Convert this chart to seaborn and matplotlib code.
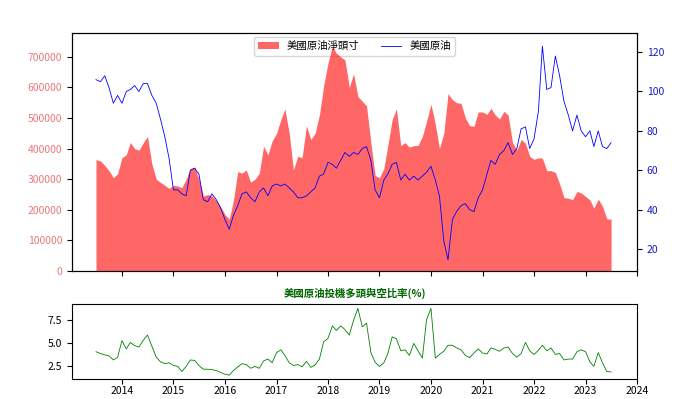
import numpy as np
import pandas as pd
import seaborn as sns
import matplotlib.pyplot as plt
import matplotlib.dates as mdates

# 月度取樣 (2013-07 ~ 2023-07)
months = pd.date_range("2013-07-01", periods=121, freq="MS")

# 美國原油淨頭寸 (千口)
net_k = [
    364, 360, 345, 328, 305, 318, 370, 380, 420, 400, 395, 419, 440, 350, 300, 290,
    280, 270, 280, 278, 272, 300, 335, 340, 300, 245, 250, 245, 230, 210, 185, 170,
    230, 325, 320, 330, 290, 300, 320, 408, 380, 425, 450, 495, 530, 450, 331, 375,
    370, 475, 430, 450, 510, 605, 680, 735, 712, 700, 690, 600, 645, 570, 555, 540,
    420, 312, 305, 335, 410, 495, 530, 410, 420, 405, 410, 410, 440, 490, 545, 480,
    400, 450, 580, 560, 550, 548, 500, 475, 473, 520, 520, 512, 532, 510, 497, 522,
    510, 420, 395, 430, 418, 375, 365, 370, 369, 328, 328, 322, 285, 240, 238, 233,
    260, 255, 244, 232, 205, 235, 212, 170, 170,
]

# 美國原油價格
price = [
    106, 105, 108, 102, 94, 98, 94, 100, 101, 103, 100, 104, 104, 98, 94, 86,
    77, 66, 50, 50, 48, 47, 60, 61, 58, 45, 44, 48, 45, 41, 35, 30,
    37, 42, 48, 49, 46, 44, 49, 51, 47, 52, 53, 52, 53, 51, 49, 46,
    46, 47, 49, 51, 57, 58, 64, 63, 61, 65, 69, 67, 69, 68, 71, 72,
    65, 50, 46, 55, 58, 63, 64, 55, 58, 55, 57, 55, 57, 59, 62, 55,
    47, 24, 14.5, 35, 39, 42, 43, 40, 39, 46, 50, 58, 65, 63, 68, 70,
    74, 68, 71, 81, 82, 71, 76, 90, 123, 101, 102, 118, 108, 95, 88, 80,
    88, 80, 77, 80, 72, 80, 72, 71, 74,
]

# 投機多頭與空頭比率 (%)
ratio = [
    4.1, 3.9, 3.75, 3.65, 3.2, 3.5, 5.3, 4.4, 5.1, 4.76, 4.6, 5.34, 5.9, 4.7, 3.5, 3.0,
    2.8, 2.9, 2.6, 2.5, 1.95, 2.5, 3.2, 3.15, 2.6, 2.2, 2.2, 2.15, 2.05, 1.85, 1.65, 1.55,
    2.05, 2.45, 2.8, 2.7, 2.3, 2.5, 2.3, 3.1, 3.3, 2.9, 4.0, 4.3, 3.7, 2.9, 2.6, 2.7,
    2.45, 3.05, 2.4, 2.65, 3.3, 5.17, 5.55, 6.9, 6.4, 6.9, 6.5, 5.9, 7.5, 8.8, 6.8, 7.2,
    4.0, 2.95, 2.5, 2.9, 3.9, 5.7, 5.5, 4.2, 4.3, 3.7, 5.0, 4.2, 3.4, 7.6, 8.8, 3.4,
    3.8, 4.14, 4.8, 4.8, 4.5, 4.3, 3.7, 3.45, 3.95, 4.4, 3.95, 3.85, 4.5, 4.35, 4.15, 4.5,
    4.6, 3.9, 3.5, 3.9, 5.1, 4.2, 3.8, 4.25, 4.8, 4.2, 4.5, 3.8, 3.9, 3.2, 3.3, 3.3,
    4.1, 4.3, 4.1, 3.0, 2.5, 4.0, 2.9, 1.95, 1.9,
]

df = pd.DataFrame({
    "date": months,
    "net": np.array(net_k) * 1000,
    "price": price,
    "ratio": ratio,
})

plt.rcParams["font.family"] = ["Noto Sans CJK TC", "DejaVu Sans"]
plt.rcParams["font.size"] = 7.5

fig = plt.figure(figsize=(6.88, 3.99), dpi=100)
ax1 = fig.add_axes([0.1047, 0.3208, 0.8212, 0.5965])
ax3 = fig.add_axes([0.1047, 0.050, 0.8212, 0.188])

# 上圖: 淨頭寸面積 + 油價
ax1.fill_between(df["date"], 0, df["net"], color="red", alpha=0.6, lw=0,
                 label="美國原油淨頭寸")
ax2 = ax1.twinx()
sns.lineplot(data=df, x="date", y="price", ax=ax2, color="blue", lw=0.6,
             label="美國原油", legend=False)

h1, l1 = ax1.get_legend_handles_labels()
h2, l2 = ax2.get_legend_handles_labels()
leg = ax1.legend(h1 + h2, l1 + l2, loc="upper center", ncol=2, fontsize=7.5,
                 borderaxespad=0.4, columnspacing=2.0)
leg.set_zorder(0.5)  # 面積蓋在圖例上

xmin, xmax = pd.Timestamp("2013-01-12"), pd.Timestamp("2024-01-01")
ax1.set_xlim(xmin, xmax)
ax1.set_ylim(0, 778000)
ax2.set_ylim(8.8, 129.7)
ax1.set_yticks(np.arange(0, 700001, 100000))
ax2.set_yticks([20, 40, 60, 80, 100, 120])
ax1.tick_params(axis="y", labelcolor="#e87878")
ax2.tick_params(axis="y", labelcolor="#1a1acc")
ax1.xaxis.set_major_locator(mdates.YearLocator())
ax1.tick_params(axis="x", labelbottom=False)
for ax in (ax1, ax2):
    ax.set_xlabel("")
    ax.set_ylabel("")

# 下圖: 多空比率
sns.lineplot(data=df, x="date", y="ratio", ax=ax3, color="green", lw=0.6)
ax3.set_xlim(xmin, xmax)
ax3.set_ylim(1.13, 9.27)
ax3.set_yticks([2.5, 5.0, 7.5])
ax3.xaxis.set_major_locator(mdates.YearLocator())
ax3.xaxis.set_major_formatter(mdates.DateFormatter("%Y"))
ax3.tick_params(axis="x", pad=1.5)
ax3.set_xlabel("")
ax3.set_ylabel("")
ax3.set_title("美國原油投機多頭與空比率(%)", color="darkgreen", fontsize=7.5,
              fontweight="bold", pad=5)

fig.savefig("out.png", dpi=100)
